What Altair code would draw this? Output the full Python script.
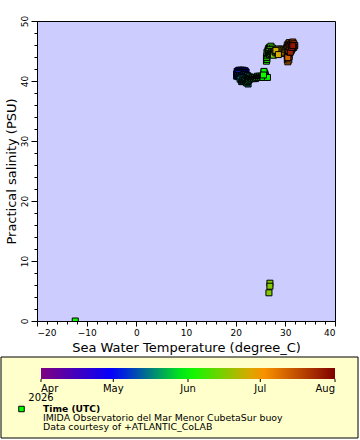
import altair as alt
import pandas as pd

# Buoy observations: timestamp (UTC), sea water temperature (degree_C), salinity (PSU)
times = [
    # late April - early June
    "2026-04-26T00", "2026-04-26T12", "2026-04-27T00", "2026-04-27T12",
    "2026-04-28T00", "2026-04-28T12", "2026-04-29T00", "2026-04-29T12",
    "2026-04-30T00", "2026-04-30T12", "2026-05-01T00", "2026-05-01T12",
    "2026-05-02T00", "2026-05-02T12", "2026-05-03T00", "2026-05-03T12",
    "2026-05-04T00", "2026-05-04T12", "2026-05-05T00", "2026-05-05T12",
    "2026-05-06T00", "2026-05-06T12", "2026-05-07T00", "2026-05-07T12",
    "2026-05-08T00", "2026-05-08T12", "2026-05-09T00", "2026-05-09T12",
    "2026-05-10T00", "2026-05-10T12", "2026-05-11T00", "2026-05-11T12",
    "2026-05-12T00", "2026-05-12T12", "2026-05-13T00", "2026-05-13T12",
    "2026-05-14T00", "2026-05-14T12", "2026-05-15T00", "2026-05-15T12",
    "2026-05-16T00", "2026-05-16T12", "2026-05-17T00", "2026-05-17T12",
    "2026-05-18T00", "2026-05-18T12", "2026-05-19T00", "2026-05-19T12",
    "2026-05-20T00", "2026-05-20T12", "2026-05-21T00", "2026-05-21T12",
    "2026-05-22T00", "2026-05-22T12", "2026-05-23T00", "2026-05-23T12",
    "2026-05-24T00", "2026-05-24T12", "2026-05-25T00", "2026-05-25T12",
    "2026-05-26T00", "2026-05-26T12", "2026-05-27T00", "2026-05-27T12",
    "2026-05-28T00", "2026-05-28T12", "2026-05-29T00", "2026-05-29T12",
    "2026-05-30T00", "2026-05-30T12", "2026-05-31T00", "2026-05-31T12",
    "2026-06-01T00", "2026-06-01T12", "2026-06-02T00", "2026-06-02T12",
    "2026-06-03T00",
    # June
    "2026-06-03T12", "2026-06-04T00", "2026-06-04T12", "2026-06-05T00",
    "2026-06-05T12", "2026-06-06T00", "2026-06-06T12", "2026-06-07T00",
    "2026-06-07T12", "2026-06-08T00", "2026-06-08T12", "2026-06-09T00",
    "2026-06-09T12", "2026-06-10T00", "2026-06-10T12", "2026-06-11T00",
    "2026-06-11T12", "2026-06-12T00", "2026-06-12T12", "2026-06-13T00",
    "2026-06-13T12", "2026-06-14T00", "2026-06-14T12", "2026-06-15T00",
    "2026-06-16T00", "2026-06-16T04", "2026-06-16T08",
    "2026-06-16T12", "2026-06-17T00", "2026-06-17T12", "2026-06-18T00",
    "2026-06-18T12", "2026-06-19T00", "2026-06-19T12", "2026-06-20T00",
    "2026-06-20T12", "2026-06-21T00", "2026-06-21T12", "2026-06-22T00",
    "2026-06-22T12", "2026-06-23T00", "2026-06-23T12", "2026-06-24T00",
    "2026-06-24T12", "2026-06-25T00", "2026-06-26T00", "2026-06-27T00",
    "2026-06-28T00", "2026-06-29T00", "2026-06-30T00",
    # July
    "2026-07-01T00", "2026-07-01T12", "2026-07-02T00", "2026-07-02T12",
    "2026-07-03T00", "2026-07-03T12", "2026-07-04T00", "2026-07-04T12",
    "2026-07-05T00", "2026-07-05T12", "2026-07-06T00", "2026-07-06T12",
    "2026-07-07T00", "2026-07-08T00", "2026-07-09T00", "2026-07-10T00",
    "2026-07-11T00", "2026-07-12T00", "2026-07-13T00", "2026-07-14T00",
    "2026-07-15T00", "2026-07-16T00", "2026-07-17T00", "2026-07-18T00",
    "2026-07-19T00", "2026-07-20T00", "2026-07-21T00", "2026-07-22T00",
    "2026-07-23T00", "2026-07-24T00", "2026-07-25T00", "2026-07-26T00",
    "2026-07-28T00",
]
temperature = [
    20.2, 20.3, 20.2, 20.4, 20.3, 20.5, 20.7, 20.9, 21.1, 21.3, 21.5, 21.7,
    21.9, 22.1, 21.9, 21.7, 21.5, 21.3, 21.1, 20.9, 20.7, 20.5, 20.4, 20.6,
    20.8, 21.0, 21.2, 21.4, 21.6, 21.8, 22.0, 22.2, 22.4, 22.3, 22.1, 21.9,
    21.7, 21.5, 21.3, 21.1, 20.9, 22.5, 21.2, 21.4, 21.6, 21.8, 22.0, 22.2,
    22.4, 22.6, 22.8, 22.6, 22.8, 23.0, 23.2, 23.4, 23.6, 23.8, 24.0, 24.2,
    24.4, 24.6, 24.8, 25.0, 25.2, 25.4, 25.6, 25.8, 26.0, 26.2, 25.9, 25.7,
    25.5, 26.4, 25.7, 25.6, -12.3,
    26.2, 26.3, 26.2, 26.3, 26.4, 26.3, 26.5, 26.6, 26.8, 27.0, 27.1, 27.4,
    27.3, 27.1, 26.9, 26.7, 26.6, 26.8, 27.0, 27.2, 27.4, 27.6, 27.8, 27.6,
    26.9, 26.9, 26.7,
    27.9, 28.1, 28.3, 28.5, 28.7, 28.9, 29.1, 29.3, 29.5, 29.7, 29.5, 29.3,
    29.1, 28.9, 28.7, 28.5, 28.3, 28.1, 28.6, 29.9, 30.1, 30.3, 30.4,
    30.6, 30.8, 31.0, 30.8, 30.6, 30.4, 30.6, 30.4, 30.6, 30.4, 30.6, 30.4,
    30.5, 30.7, 30.5, 30.8, 30.6, 30.5, 30.9, 30.7, 31.0, 30.8, 31.1, 31.3,
    31.5, 31.7, 31.9, 31.7, 31.4, 31.2, 31.0, 31.3, 31.5,
]
salinity = [
    40.8, 41.0, 41.2, 41.4, 41.6, 41.7, 41.8, 41.6, 41.8, 41.7, 41.8, 41.6,
    41.7, 41.5, 41.3, 41.4, 41.2, 41.4, 41.2, 41.3, 41.1, 41.2, 40.9, 40.7,
    40.9, 40.7, 40.9, 40.8, 41.0, 40.8, 41.0, 40.8, 40.9, 40.6, 40.4, 40.6,
    40.4, 40.5, 40.3, 40.5, 40.3, 39.5, 39.9, 40.1, 39.9, 40.1, 39.9, 39.7,
    39.9, 40.1, 40.3, 40.5, 40.7, 40.5, 40.4, 40.6, 40.4, 40.6, 40.4, 40.6,
    40.8, 40.6, 40.8, 40.6, 40.8, 40.6, 40.9, 40.7, 40.9, 40.6, 41.2, 41.4,
    40.6, 40.6, 41.6, 41.0, 0.0,
    43.3, 43.6, 43.9, 44.2, 44.5, 44.8, 45.1, 45.4, 45.6, 45.5, 45.8, 45.5,
    45.2, 45.0, 45.2, 44.9, 44.6, 44.4, 44.6, 44.8, 44.6, 44.8, 44.6, 44.3,
    6.3, 5.8, 4.7,
    44.9, 44.7, 44.9, 44.6, 44.8, 44.6, 44.8, 44.6, 44.9, 45.1, 45.3, 45.1,
    45.3, 45.1, 45.3, 45.1, 45.3, 45.1, 44.4, 44.8, 45.2, 45.6, 46.0,
    46.2, 46.4, 46.2, 45.9, 45.6, 45.3, 45.0, 44.7, 44.4, 44.1, 43.8, 43.5,
    43.2, 43.5, 43.8, 44.1, 44.4, 43.9, 44.8, 45.1, 45.4, 45.7, 46.0, 46.3,
    46.5, 46.2, 45.9, 45.6, 45.4, 45.1, 44.8, 45.6, 45.9,
]

# Colour bar: month boundaries and the palette stops between them
month_stops = ["2026-04-01", "2026-05-01", "2026-06-01", "2026-07-01", "2026-08-01"]
month_colors = ["#800080", "#0000ff", "#00ff00", "#ff9900", "#800000"]

x_major = [-20, -10, 0, 10, 20, 30, 40]
x_minor = list(range(-20, 41, 2))
y_major = [0, 10, 20, 30, 40, 50]
y_minor = list(range(0, 51, 2))

year_label = "2026"
legend_title = "Time (UTC)"
legend_notes = [
    "IMIDA Observatorio del Mar Menor CubetaSur buoy",
    "Data courtesy of +ATLANTIC_CoLAB",
]

FONT = "DejaVu Sans"
BAR_X0, BAR_LEN = 4, 294


def to_ms(values):
    # UTC epoch milliseconds, used as the colour-scale input
    return [int(v) // 10**6 for v in pd.to_datetime(values, utc=True).astype("int64")]


df = pd.DataFrame({"t": to_ms(times), "temp": temperature, "sal": salinity})
stops_ms = to_ms(month_stops)
stops_df = pd.DataFrame({"t": stops_ms})

x_scale = alt.Scale(domain=[-20, 40], nice=False, zero=False)
y_scale = alt.Scale(domain=[0, 50], nice=False, zero=False)

color = alt.Color(
    "t:Q",
    scale=alt.Scale(domain=stops_ms, range=month_colors, interpolate="rgb",
                    nice=False, zero=False),
    legend=alt.Legend(
        values=stops_ms,
        title=None,
        orient="none",
        legendX=BAR_X0,
        legendY=347,
        direction="horizontal",
        gradientLength=BAR_LEN,
        gradientThickness=11,
        gradientStrokeWidth=0,
        labelFont=FONT,
        labelFontSize=10,
        labelColor="black",
        labelOffset=5,
        labelAlign="center",
        labelOverlap=False,
        labelLimit=0,
        labelExpr="utcFormat(datum.value, '%b')",
        padding=0,
    ),
)

points = alt.Chart(df).mark_square(
    size=36, filled=True, stroke="black", strokeWidth=1, opacity=1, clip=True
).encode(
    x=alt.X(
        "temp:Q",
        scale=x_scale,
        axis=alt.Axis(
            values=x_major, tickSize=5, labelPadding=2, format="d", orient="bottom",
            title="Sea Water Temperature (degree_C)", titlePadding=4,
        ),
    ),
    y=alt.Y(
        "sal:Q",
        scale=y_scale,
        axis=alt.Axis(
            values=y_major, tickSize=6, labelAngle=270, labelAlign="center",
            labelBaseline="bottom", labelPadding=2, format="d", orient="left",
            title="Practical salinity (PSU)", titlePadding=2,
        ),
    ),
    color=color,
)

# Minor tick marks on both axes
minor = alt.Chart(df).mark_point(opacity=0).encode(
    x=alt.X("temp:Q", scale=x_scale,
            axis=alt.Axis(values=x_minor, tickSize=3, labels=False, domain=False,
                          title=None, orient="bottom")),
    y=alt.Y("sal:Q", scale=y_scale,
            axis=alt.Axis(values=y_minor, tickSize=3, labels=False, domain=False,
                          title=None, orient="left")),
)

# Month tick marks under the colour bar, on a time scale spanning the bar
bar_ticks = alt.Chart(stops_df).mark_rule(color="black", strokeWidth=1).encode(
    x=alt.X("t:Q", axis=None,
            scale=alt.Scale(domain=[stops_ms[0], stops_ms[-1]],
                            range=[BAR_X0, BAR_X0 + BAR_LEN], nice=False, zero=False)),
    y=alt.value(358),
    y2=alt.value(361),
)

one = pd.DataFrame({"k": [0]})

# Legend panel background
panel = alt.Chart(one).mark_rect(
    fill="#ffffcc", stroke="black", strokeWidth=1
).encode(
    x=alt.value(-36), x2=alt.value(321), y=alt.value(336), y2=alt.value(417)
)

swatch = alt.Chart(one).mark_square(
    size=30, filled=True, color="#00ff00", stroke="black", strokeWidth=1, opacity=1
).encode(x=alt.value(-15.5), y=alt.value(388))

year_text = alt.Chart(one).mark_text(
    text=year_label, font=FONT, fontSize=10, color="black",
    align="center", baseline="middle"
).encode(x=alt.value(BAR_X0), y=alt.value(377))

title_text = alt.Chart(one).mark_text(
    text=legend_title, font=FONT, fontSize=9.2, fontWeight="bold", color="black",
    align="left", baseline="middle"
).encode(x=alt.value(6), y=alt.value(388))

note_1 = alt.Chart(one).mark_text(
    text=legend_notes[0], font=FONT, fontSize=9.4, color="black",
    align="left", baseline="middle"
).encode(x=alt.value(6), y=alt.value(397))

note_2 = alt.Chart(one).mark_text(
    text=legend_notes[1], font=FONT, fontSize=9.4, color="black",
    align="left", baseline="middle"
).encode(x=alt.value(6), y=alt.value(406))

chart = alt.layer(
    panel, bar_ticks, swatch, year_text, title_text, note_1, note_2, minor, points
).resolve_axis(
    x="independent", y="independent"
).resolve_scale(
    x="independent"
).properties(
    width=298,
    height=300,
    padding={"left": 37, "top": 21, "right": 25, "bottom": 119},
    autosize=alt.AutoSizeParams(type="none"),
    background="white",
).configure_view(
    fill="#ccccff", stroke="black", strokeWidth=1
).configure_axis(
    grid=False,
    domainColor="black",
    tickColor="black",
    labelColor="black",
    titleColor="black",
    labelFont=FONT,
    titleFont=FONT,
    labelFontSize=9,
    titleFontSize=13,
    titleFontWeight="normal",
)

chart.save("out.html", embed_options={"renderer": "svg", "actions": False})
